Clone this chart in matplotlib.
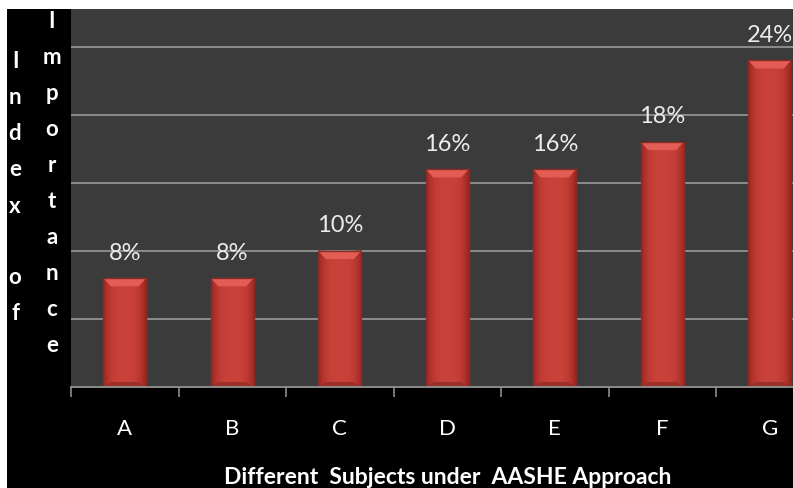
import numpy as np
import matplotlib.pyplot as plt
from matplotlib.patches import Rectangle, Polygon

plt.rcParams['font.family'] = ['Lato', 'DejaVu Sans']

# index of importance per subject (%)
subjects = ['A', 'B', 'C', 'D', 'E', 'F', 'G']
importance = [8, 8, 10, 16, 16, 18, 24]
value_labels = ['8%', '8%', '10%', '16%', '16%', '18%', '24%']
y_word1 = 'Index of'
y_word2 = 'Importance'

fig = plt.figure(figsize=(7.93, 4.88), dpi=100, facecolor='white')
# black panel behind the chart
fig.add_artist(Rectangle((7 / 793, 0), 1, 479 / 488, transform=fig.transFigure,
                         facecolor='black', edgecolor='none', zorder=-10))

ax = fig.add_axes([71 / 793, 101 / 488, 752.5 / 793, 378 / 488])
ax.set_facecolor('#3b3b3b')

ax.set_yticks([5, 10, 15, 20, 25])
ax.yaxis.grid(True, color='#8c8c8c', lw=1.4)
ax.set_axisbelow(True)
ax.tick_params(axis='y', left=False, labelleft=False)
for s in ['top', 'right', 'left']:
    ax.spines[s].set_visible(False)
ax.spines['bottom'].set_color('#8c8c8c')
ax.spines['bottom'].set_linewidth(1.4)

x = np.arange(len(subjects))
ax.set_xticks(x)
ax.set_xticklabels(subjects, color='white', fontsize=16)
ax.tick_params(axis='x', which='major', length=0, pad=23)
ax.set_xticks(np.arange(-0.5, 7, 1), minor=True)
ax.tick_params(axis='x', which='minor', length=7, width=1.2, color='#8c8c8c', direction='out')

w = 0.4
bars = ax.bar(x, importance, width=w, color='#c9423a', edgecolor='none', zorder=2)

# darker towards the bar sides
shade = np.linspace(0, 1, 50)
img = np.zeros((2, 50, 4))
img[..., 0] = 0.4
img[..., 3] = (np.abs(shade - 0.5) * 2) ** 3 * 0.45

dx, dy = 0.07, 0.6
for b in bars:
    x0, h = b.get_x(), b.get_height()
    ax.imshow(img, extent=[x0, x0 + w, 0, h], aspect='auto', zorder=2.2,
              interpolation='bilinear')
    # bevelled top and bottom
    ax.add_patch(Polygon([[x0, h], [x0 + w, h], [x0 + w - dx, h - dy], [x0 + dx, h - dy]],
                         closed=True, facecolor='#e35d55', edgecolor='none', zorder=2.3))
    ax.add_patch(Polygon([[x0, 0], [x0 + w, 0], [x0 + w - dx, dy * 0.6], [x0 + dx, dy * 0.6]],
                         closed=True, facecolor='#9c2e29', edgecolor='none', zorder=2.3))
    ax.add_patch(Rectangle((x0, 0), w, h, facecolor='none', edgecolor='#8a2a25',
                           linewidth=1.0, zorder=2.4))

for xi, v, lab in zip(x, importance, value_labels):
    ax.annotate(lab, (xi, v), xytext=(0, 18), textcoords='offset points',
                ha='center', va='center', color='#ececec', fontsize=17)

ax.set_xlim(-0.5, 6.5)
ax.set_ylim(0, 27.77)

fig.text(448 / 793, 1 - 477 / 488, 'Different  Subjects under  AASHE Approach',
         ha='center', va='center', color='white', fontsize=16.5, fontweight='bold')

# vertical y-axis title, one letter per line
step = 36.0
for i, ch in enumerate(y_word1):
    if ch != ' ':
        fig.text(15 / 793, 1 - (62 + i * step) / 488, ch, ha='center', va='center',
                 color='white', fontsize=16, fontweight='bold')
for i, ch in enumerate(y_word2):
    fig.text(52 / 793, 1 - (22 + i * step) / 488, ch, ha='center', va='center',
             color='white', fontsize=16, fontweight='bold')

fig.savefig('out.png', dpi=100, facecolor=fig.get_facecolor())
